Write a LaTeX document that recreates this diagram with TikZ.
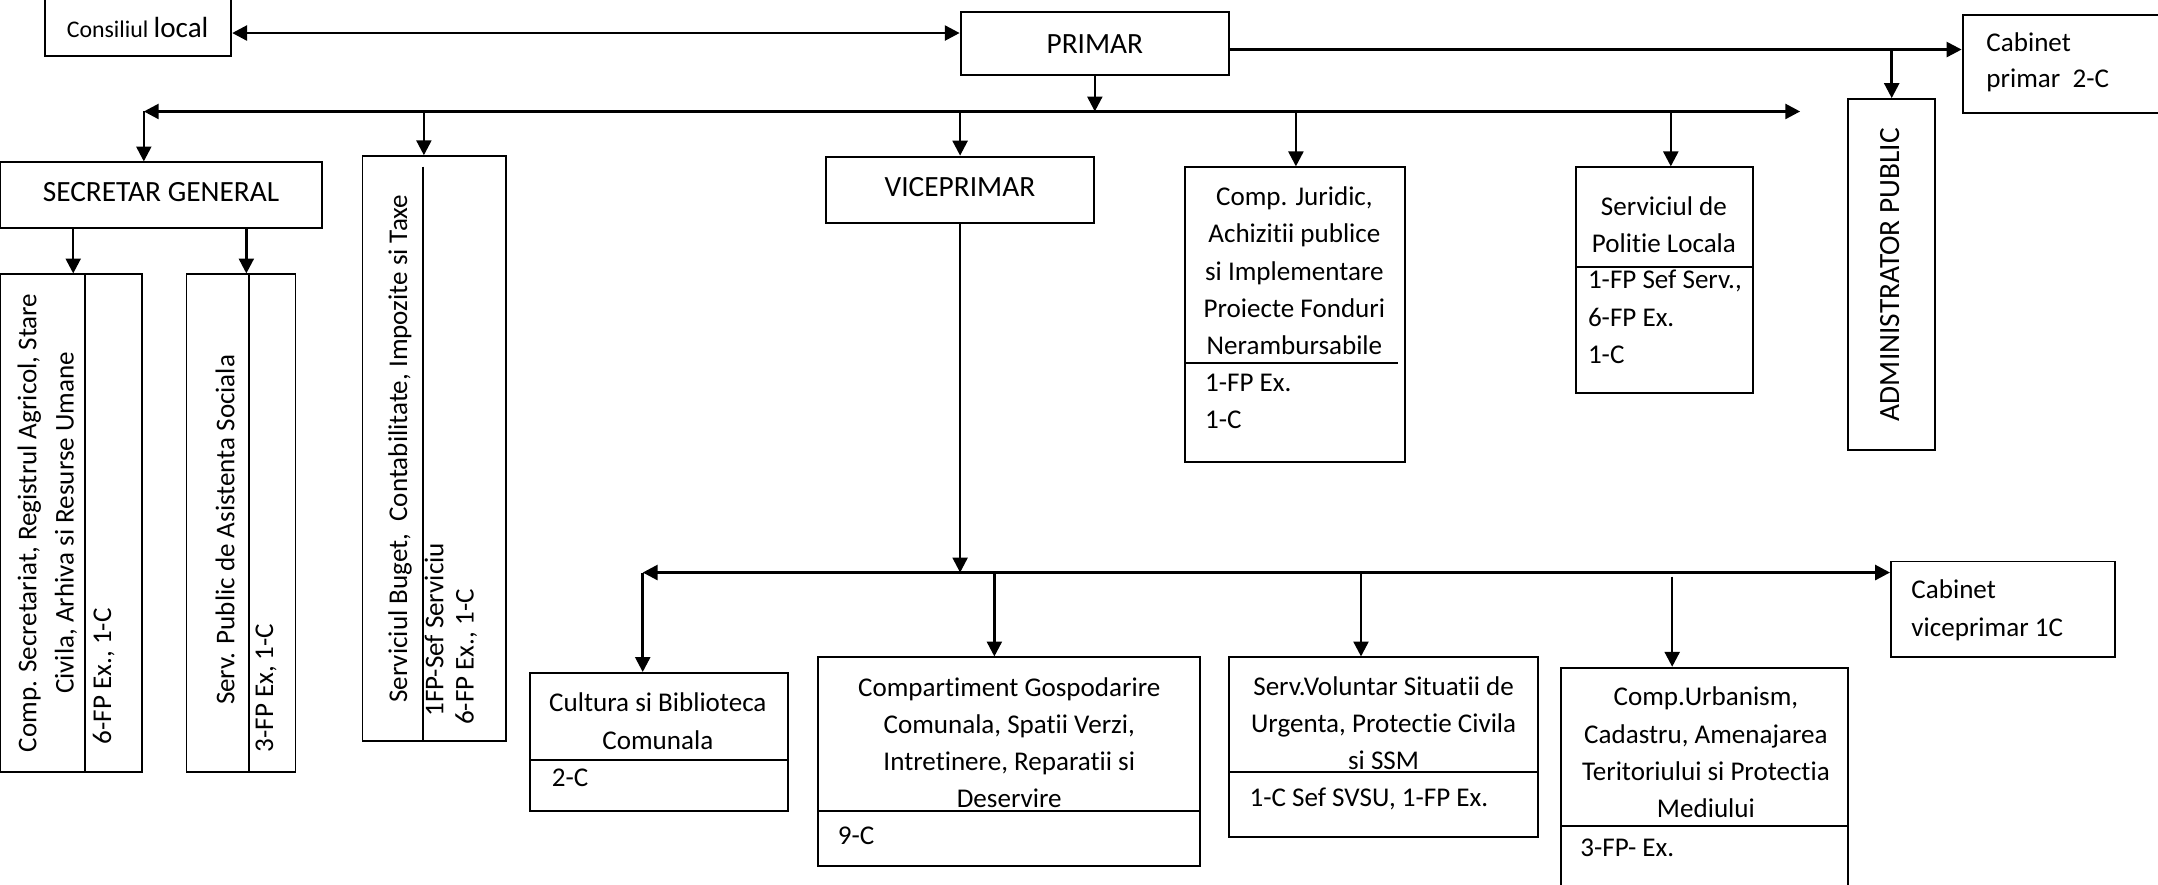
\documentclass[tikz,border=0pt]{standalone}
\usepackage{fontspec}
\setmainfont{Carlito}[Ligatures=NoCommon]
\usetikzlibrary{arrows.meta,fit}
\tikzset{
  box/.style={draw, line width=0.85pt, inner sep=0pt},
  divider/.style={line width=0.85pt},
  txt/.style={font=\fontsize{11.8}{16.2}\selectfont, inner sep=0pt, align=center},
  ltxt/.style={font=\fontsize{11.8}{16.2}\selectfont, inner sep=0pt, anchor=base west},
  head/.style={font=\fontsize{12.8}{15}\selectfont, inner sep=0pt},
  rtxt/.style={font=\fontsize{11.8}{16.2}\selectfont, inner sep=0pt, rotate=90, align=center},
  rlow/.style={font=\fontsize{11.8}{16.2}\selectfont, inner sep=0pt, rotate=90, anchor=west},
  conn/.style={line width=1.1pt, -{Triangle[length=6.5pt,width=6.5pt]}},
  both/.style={line width=1.25pt, {Triangle[length=6.5pt,width=6.5pt]}-{Triangle[length=6.5pt,width=6.5pt]}}
}
\begin{document}
\begin{tikzpicture}[x=0.6pt,y=-0.6pt]
\useasboundingbox (0,0) rectangle (1568,643);

% ---------- boxes ----------
\node[box, fit={(33,-3) (168,41)}] (cons) {};
\node[box, fit={(698,8.5) (893,54.5)}] (primar) {};
\node[box, fit={(1426,11) (1575,82)}] (cabp) {};
\node[box, fit={(1343,72) (1406,327)}] (admin) {};
\node[box, fit={(0,118) (234,166)}] (sg) {};
\node[box, fit={(0,199.4) (103,561)}] (compsec) {};
\node[box, fit={(135.5,199.4) (214.7,561)}] (spas) {};
\node[box, fit={(263.4,113.5) (367.5,538.6)}] (buget) {};
\node[box, fit={(600.2,113.8) (795,161.8)}] (vice) {};
\node[box, fit={(860.7,121.6) (1021,335.5)}] (jur) {};
\node[box, fit={(1145,121.6) (1273.5,285.4)}] (pol) {};
\node[box, fit={(1374,408) (1537,477.7)}] (cabv) {};
\node[box, fit={(385,489) (572.6,589)}] (cult) {};
\node[box, fit={(594.3,477.7) (872,629.4)}] (gosp) {};
\node[box, fit={(893,477.7) (1117.6,608)}] (svsu) {};
\node[box, fit={(1134,485.2) (1342.7,660)}] (urb) {};

% ---------- dividers ----------
\draw[divider] (61.5,199.4) -- (61.5,561);
\draw[divider] (180.9,199.4) -- (180.9,561);
\draw[divider] (307.6,121) -- (307.6,538.6);
\draw[divider] (860.7,264) -- (1016,264);
\draw[divider] (1145,194.3) -- (1273.5,194.3);
\draw[divider] (385,552) -- (572.6,552);
\draw[divider] (594.3,589) -- (872,589);
\draw[divider] (893,560.8) -- (1117.6,560.8);
\draw[divider] (1134,600.3) -- (1342.7,600.3);

% ---------- texts ----------
\node[inner sep=0pt] (tcons) at (100,20) {{\fontsize{10.4}{12}\selectfont Consiliul} {\fontsize{12.7}{14}\selectfont local}};
\node[head] (tprimar) at (795.5,32) {PRIMAR};
\node[ltxt] (tcabp1) at (1443,37.5) {Cabinet};
\node[ltxt] (tcabp2) at (1443,63.5) {primar~~2-C};
\node[head, rotate=90] (tadmin) at (1373,199.5) {ADMINISTRATOR PUBLIC};
\node[head] (tsg) at (117,139.5) {SECRETAR GENERAL};
\node[rtxt] (tcompsec) at (34.4,380) {Comp. Secretariat, Registrul Agricol, Stare\\Civila, Arhiva si Resurse Umane};
\node[rlow] (tcompsec2) at (75.3,541) {6-FP Ex., 1-C};
\node[rtxt] (tspas) at (163.5,385) {Serv. Public de Asistenta Sociala};
\node[rlow] (tspas2) at (193.3,547) {3-FP Ex, 1-C};
\node[rtxt] (tbuget) at (290.7,326) {Serviciul Buget,\ \ Contabilitate, Impozite si Taxe};
\node[rlow] (tbuget2) at (315.4,521) {1FP-Sef Serviciu};
\node[rlow] (tbuget3) at (338.7,527) {6-FP Ex., 1-C};
\node[head] (tvice) at (697.5,135.6) {VICEPRIMAR};
\node[txt] (tjur) at (940.5,196.8) {Comp. Juridic,\\Achizitii publice\\si Implementare\\Proiecte Fonduri\\Nerambursabile};
\node[ltxt] (tjur2) at (875.3,284.5) {1-FP Ex.};
\node[ltxt] (tjur3) at (875.3,311.2) {1-C};
\node[txt] (tpol) at (1209,163.5) {Serviciul de\\Politie Locala};
\node[ltxt] (tpol2) at (1153.5,209.5) {1-FP Sef Serv.,};
\node[ltxt] (tpol3) at (1153.5,237.3) {6-FP Ex.};
\node[ltxt] (tpol4) at (1153.5,264) {1-C};
\node[ltxt] (tcabv1) at (1388.5,434.8) {Cabinet};
\node[ltxt] (tcabv2) at (1388.5,462.6) {viceprimar 1C};
\node[txt] (tcult) at (478,524) {Cultura si Biblioteca\\Comunala};
\node[ltxt] (tcult2) at (400.6,571.5) {2-C};
\node[txt] (tgosp) at (733.3,539.6) {Compartiment Gospodarire\\Comunala, Spatii Verzi,\\Intretinere, Reparatii si\\Deservire};
\node[ltxt] (tgosp2) at (608.4,613.6) {9-C};
\node[txt] (tsvsu) at (1005.3,525.5) {Serv.Voluntar Situatii de\\Urgenta, Protectie Civila\\si SSM};
\node[ltxt] (tsvsu2) at (907.6,586.2) {1-C Sef SVSU, 1-FP Ex.};
\node[txt] (turb) at (1239.5,546.7) {Comp.Urbanism,\\Cadastru, Amenajarea\\Teritoriului si Protectia\\Mediului};
\node[ltxt] (turb2) at (1148,622.5) {3-FP- Ex.};

% ---------- connectors ----------
\coordinate (y24) at (0,24);
\coordinate (y36) at (0,36);
\draw[both] (cons.east |- y24) -- (primar.west |- y24);
\draw[conn] (primar.east |- y36) -- (cabp.west |- y36);
\draw[conn] (admin.north |- y36) -- (admin.north);

\coordinate (b1L) at (104.5,81);
\coordinate (b1R) at (1308,81);
\draw[both] (b1L) -- (b1R);
\draw[conn] (primar.south) -- (primar.south |- b1L);
\draw[conn] (b1L) -- (b1L |- sg.north);
\coordinate (d2) at (308,81);
\draw[conn] (d2) -- (d2 |- buget.north);
\draw[conn] (vice.north |- b1L) -- (vice.north);
\coordinate (d4) at (941.6,81);
\draw[conn] (d4) -- (d4 |- jur.north);
\coordinate (d5) at (1214,81);
\draw[conn] (d5) -- (d5 |- pol.north);

\coordinate (s1) at (53.2,0);
\coordinate (s2) at (179,0);
\draw[conn] (s1 |- sg.south) -- (s1 |- compsec.north);
\draw[conn] (s2 |- sg.south) -- (s2 |- spas.north);

\coordinate (b2L) at (467,416);
\draw[conn] (vice.south) -- (vice.south |- b2L);
\draw[both] (b2L) -- (cabv.west |- b2L);
\draw[conn] (b2L) -- (b2L |- cult.north);
\coordinate (e2) at (722.5,416);
\draw[conn] (e2) -- (e2 |- gosp.north);
\coordinate (e3) at (988.9,416);
\draw[conn] (e3) -- (e3 |- svsu.north);
\coordinate (e4) at (1215,419);
\draw[conn] (e4) -- (e4 |- urb.north);
\end{tikzpicture}
\end{document}
